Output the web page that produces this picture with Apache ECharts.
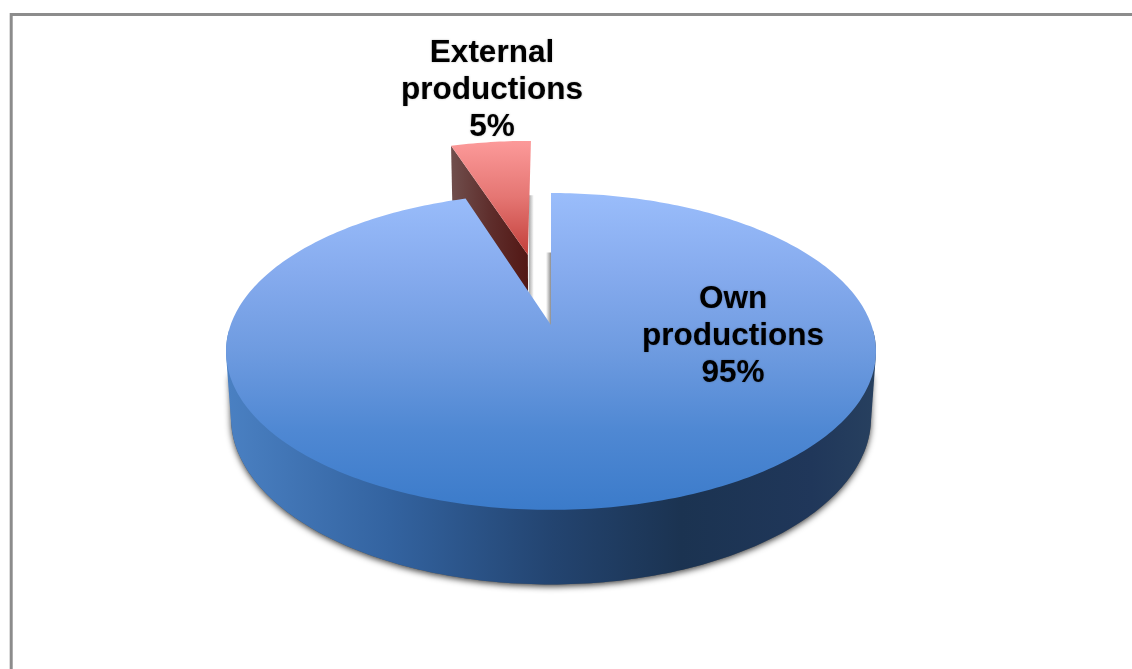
<!DOCTYPE html>
<html>
<head>
<meta charset="utf-8">
<style>html,body{margin:0;padding:0;background:#fff}#c{width:1132px;height:669px}</style>
<script src="https://cdn.jsdelivr.net/npm/echarts@6/dist/echarts.min.js"></script>
</head>
<body>
<div id="c"></div>
<script>
const categoryLines = [['Own', 'productions'], ['External', 'productions']];
const shareValues = [95, 5];

// Perspective projection of the pie disc
const X0 = 551, Y0 = 325, R = 320.4, S = 154, K = -0.167;
const DEPTH = 66, M = 0.015;
const EXPLODE = [0, 0.5];
const LABEL_POS = [[733, 336], [492, 90]];
const FONT = 'bold 31.5px "Liberation Sans", Arial, sans-serif';
const LINE_H = 37;

const total = shareValues.reduce((a, b) => a + b, 0);
const spans = [];
let acc = 0;
shareValues.forEach(v => { spans.push([acc / total * 360, (acc + v) / total * 360]); acc += v; });

function project(theta, radius, explode, midAngle, bottom) {
  const t = theta * Math.PI / 180, m = midAngle * Math.PI / 180;
  const u = radius * Math.sin(t) + explode * Math.sin(m);
  const v = -radius * Math.cos(t) - explode * Math.cos(m);
  const w = 1 + K * v + (bottom ? M : 0);
  return [X0 + R * u / w, Y0 + (S * v + (bottom ? DEPTH : 0)) / w];
}
function rim(a0, a1, e, mid, bottom) {
  const pts = [], n = Math.max(2, Math.ceil(Math.abs(a1 - a0)));
  for (let i = 0; i <= n; i++) pts.push(project(a0 + (a1 - a0) * i / n, 1, e, mid, bottom));
  return pts;
}
function hull(points) {
  const p = points.slice().sort((a, b) => a[0] - b[0] || a[1] - b[1]);
  const cross = (o, a, b) => (a[0] - o[0]) * (b[1] - o[1]) - (a[1] - o[1]) * (b[0] - o[0]);
  const lo = [], up = [];
  p.forEach(q => { while (lo.length > 1 && cross(lo[lo.length - 2], lo[lo.length - 1], q) <= 0) lo.pop(); lo.push(q); });
  p.slice().reverse().forEach(q => { while (up.length > 1 && cross(up[up.length - 2], up[up.length - 1], q) <= 0) up.pop(); up.push(q); });
  return lo.slice(0, -1).concat(up.slice(0, -1));
}
const G = echarts.graphic.LinearGradient;
const vGrad = (y0, y1, stops) => new G(0, y0, 0, y1, stops.map(c => ({offset: c[0], color: c[1]})), true);
const hGrad = (x0, x1, stops) => new G(x0, 0, x1, 0, stops.map(c => ({offset: c[0], color: c[1]})), true);

const blueTop = vGrad(193, 510, [[0, '#9abdfb'], [0.25, '#86abee'], [0.5, '#6e9be0'], [0.75, '#4f88d3'], [1, '#3b7bca']]);
const blueSide = hGrad(228, 876, [[0, '#4a80c2'], [0.25, '#3363a0'], [0.5, '#234470'], [0.7, '#1b3351'], [0.9, '#20375a'], [1, '#27405f']]);
const redTop = vGrad(139, 255, [[0, '#fd9b9b'], [0.5, '#e57673'], [1, '#c23f3a']]);
const redCut = hGrad(453, 529, [[0, '#6f4d4b'], [0.5, '#5e2d2b'], [1, '#521714']]);

function poly(points, style, z2) { return {type: 'polygon', shape: {points}, style, z2}; }
function label(i) {
  const lines = categoryLines[i].concat([shareValues[i] + '%']);
  return lines.map((txt, k) => ({
    type: 'text', z2: 50,
    style: {text: txt, x: LABEL_POS[i][0], y: LABEL_POS[i][1] + (k - 1) * LINE_H,
      font: FONT, fill: '#000', align: 'center', verticalAlign: 'middle',
      textShadowColor: 'rgba(0,0,0,0.3)', textShadowBlur: 2}
  }));
}
function renderItem(params) {
  const i = params.dataIndex, a0 = spans[i][0], a1 = spans[i][1];
  const mid = (a0 + a1) / 2, e = EXPLODE[i];
  const apex = project(0, 0, e, mid, false);
  const apexB = project(0, 0, e, mid, true);
  const top = rim(a0, a1, e, mid, false);
  const bot = rim(a0, a1, e, mid, true);
  const kids = [];
  if (i === 0) {
    // drop shadow comes from the lower silhouette only, so the back rim stays clean
    const shadowSrc = hull(rim(80, 280, e, mid, true).concat(rim(108, 252, e, mid, false)));
    kids.push(poly(shadowSrc, {fill: '#555', shadowColor: 'rgba(0,0,0,0.75)', shadowBlur: 6, shadowOffsetY: 2}, 10));
    const b0 = project(a0, 1, e, mid, true);
    kids.push(poly([[apex[0] - 5, b0[1] + 2], [apex[0], b0[1] + 2], [apex[0], apexB[1]], [apex[0] - 5, apexB[1]]],
      {fill: hGrad(apex[0] - 5, apex[0], [[0, '#ffffff'], [1, '#8c8c8c']])}, 11));
    kids.push(poly(hull(rim(75, 285, e, mid, true).concat(rim(92, 268, e, mid, false))), {fill: blueSide}, 13));
    kids.push(poly([apex].concat(top), {fill: blueTop}, 30));
  } else {
    const rightB = project(a1, 1, e, mid, true);
    kids.push(poly([[apex[0] + 1, rightB[1]], [apex[0] + 6, rightB[1]], [apex[0] + 6, apexB[1]], [apex[0] + 1, apexB[1]]],
      {fill: hGrad(apex[0] + 1, apex[0] + 6, [[0, '#a8a8a8'], [1, '#ffffff']])}, 2));
    kids.push(poly([top[0], apex, apexB, bot[0]], {fill: redCut}, 3));
    kids.push(poly([apex].concat(top), {fill: redTop}, 4));
  }
  return {type: 'group', children: kids.concat(label(i))};
}

const chart = echarts.init(document.getElementById('c'), null, {renderer: 'canvas'});
chart.setOption({
  animation: false,
  backgroundColor: '#fff',
  graphic: [{
    type: 'polyline', silent: true,
    shape: {points: [[11.2, 669], [11.2, 14.5], [1132, 14.5]]},
    style: {stroke: '#8c8c8c', lineWidth: 3, fill: null}
  }],
  series: [{
    type: 'custom', coordinateSystem: 'none', silent: true,
    data: shareValues,
    renderItem
  }]
});
</script>
</body>
</html>
